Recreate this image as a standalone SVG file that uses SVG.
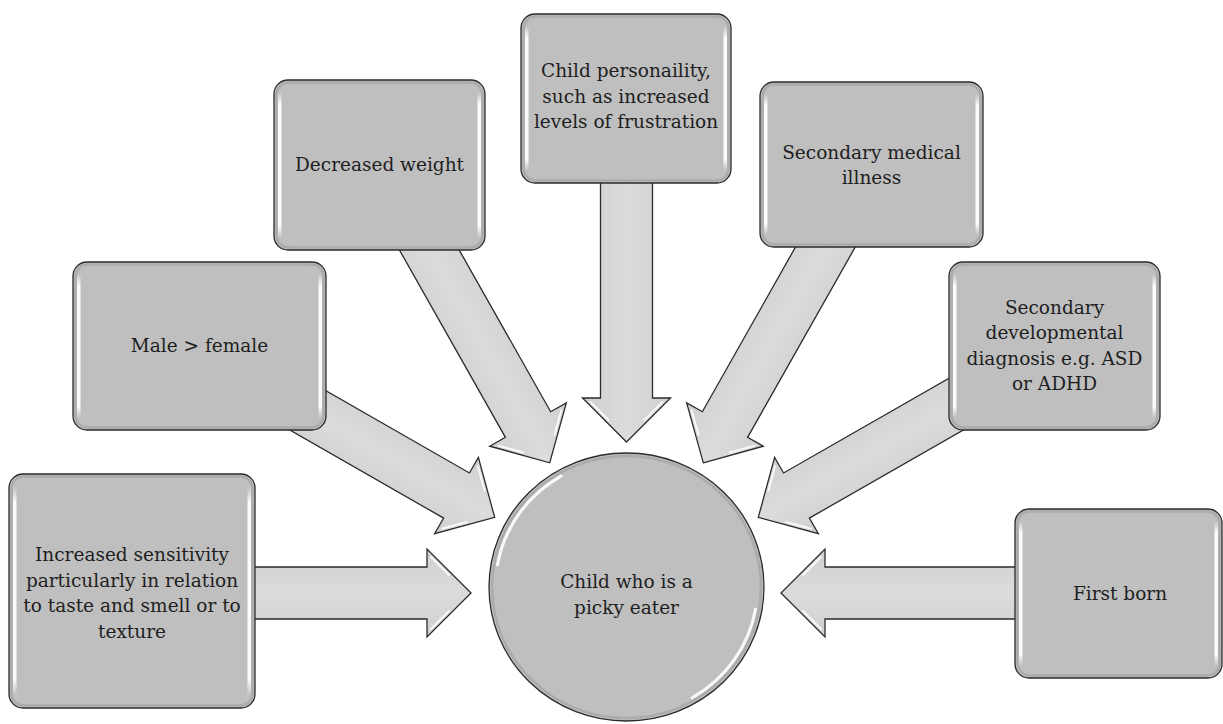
<svg xmlns="http://www.w3.org/2000/svg" width="1223" height="724" viewBox="0 0 1223 724">
<style>
.box{fill:#bfbfbf;stroke:#2b2b2b;stroke-width:1.3}
.inset{fill:none;stroke:#a3a3a3;stroke-width:2.5;opacity:0.7}
.hl{fill:url(#hlg)}
.lbl{font-family:"DejaVu Serif","Liberation Serif",serif;font-size:18.5px;fill:#1e1e1e;text-anchor:middle}
.arr{fill:url(#ag);stroke:#2b2b2b;stroke-width:1.3;stroke-linejoin:miter}
.ahl{stroke:#fff;stroke-width:2;stroke-linecap:round;opacity:0.85;fill:none}
</style>
<defs>
<linearGradient id="hlg" x1="0" y1="0" x2="0" y2="1">
<stop offset="0" stop-color="#fff" stop-opacity="0"/>
<stop offset="0.08" stop-color="#fff" stop-opacity="0.95"/>
<stop offset="0.92" stop-color="#fff" stop-opacity="0.95"/>
<stop offset="1" stop-color="#fff" stop-opacity="0"/>
</linearGradient>
<linearGradient id="ag" gradientUnits="userSpaceOnUse" x1="0" y1="-44" x2="0" y2="44">
<stop offset="0" stop-color="#cfcfcf"/>
<stop offset="0.5" stop-color="#dcdcdc"/>
<stop offset="1" stop-color="#cfcfcf"/>
</linearGradient>
<g id="arrow">
<polygon class="arr" points="0,0 -44,-44 -44,-26 -345,-26 -345,26 -44,26 -44,44"/>
<path class="ahl" d="M-40,-36 L-22,-18 M-40,36 L-22,18"/>
</g>
</defs>
<rect width="1223" height="724" fill="#fff"/>

<g id="connectors">
<use href="#arrow" transform="translate(471,593)"/>
<use href="#arrow" transform="translate(494.7,517.4) rotate(29.8)"/>
<use href="#arrow" transform="translate(549.7,462.8) rotate(60.5)"/>
<use href="#arrow" transform="translate(626.5,442) rotate(90)"/>
<use href="#arrow" transform="translate(703.3,462.8) rotate(119.5)"/>
<use href="#arrow" transform="translate(758.3,517.4) rotate(150.2)"/>
<use href="#arrow" transform="translate(781,593) rotate(180)"/>
</g>

<g id="center">
<ellipse cx="626.5" cy="587" rx="137.5" ry="134" fill="#bfbfbf" stroke="#2b2b2b" stroke-width="1.3"/>
<ellipse cx="626.5" cy="587" rx="134.5" ry="131" fill="none" stroke="#a3a3a3" stroke-width="2.5" opacity="0.7"/>
<path d="M497.5,564.8 A131,128 0 0,1 561,476.1" fill="none" stroke="#fff" stroke-width="3" stroke-linecap="round" opacity="0.9"/>
<path d="M755.5,609.2 A131,128 0 0,1 692,697.9" fill="none" stroke="#fff" stroke-width="3" stroke-linecap="round" opacity="0.9"/>
<text class="lbl" x="626.5" y="588">Child who is a</text>
<text class="lbl" x="626.5" y="614">picky eater</text>
</g>

<g id="n-sensitivity">
<rect class="box" x="9" y="474" width="246" height="234" rx="14"/>
<rect class="inset" x="11.5" y="476.5" width="241" height="229" rx="12"/>
<rect class="hl" x="13" y="486" width="3.5" height="210" rx="1.75"/>
<rect class="hl" x="247.5" y="486" width="3.5" height="210" rx="1.75"/>
<text class="lbl" x="132" y="561">Increased sensitivity</text>
<text class="lbl" x="132" y="586.5">particularly in relation</text>
<text class="lbl" x="132" y="612">to taste and smell or to</text>
<text class="lbl" x="132" y="637.5">texture</text>
</g>

<g id="n-male">
<rect class="box" x="73" y="262" width="253" height="168" rx="14"/>
<rect class="inset" x="75.5" y="264.5" width="248" height="163" rx="12"/>
<rect class="hl" x="77" y="274" width="3.5" height="144" rx="1.75"/>
<rect class="hl" x="318.5" y="274" width="3.5" height="144" rx="1.75"/>
<text class="lbl" x="199.5" y="351.5">Male &gt; female</text>
</g>

<g id="n-weight">
<rect class="box" x="274" y="80" width="211" height="170" rx="14"/>
<rect class="inset" x="276.5" y="82.5" width="206" height="165" rx="12"/>
<rect class="hl" x="278" y="92" width="3.5" height="146" rx="1.75"/>
<rect class="hl" x="477.5" y="92" width="3.5" height="146" rx="1.75"/>
<text class="lbl" x="379.5" y="171">Decreased weight</text>
</g>

<g id="n-personality">
<rect class="box" x="521" y="14" width="210" height="169" rx="14"/>
<rect class="inset" x="523.5" y="16.5" width="205" height="164" rx="12"/>
<rect class="hl" x="525" y="26" width="3.5" height="145" rx="1.75"/>
<rect class="hl" x="723.5" y="26" width="3.5" height="145" rx="1.75"/>
<text class="lbl" x="626" y="77">Child personaility,</text>
<text class="lbl" x="626" y="102.5">such as increased</text>
<text class="lbl" x="626" y="128">levels of frustration</text>
</g>

<g id="n-medical">
<rect class="box" x="760" y="82" width="223" height="165" rx="14"/>
<rect class="inset" x="762.5" y="84.5" width="218" height="160" rx="12"/>
<rect class="hl" x="764" y="94" width="3.5" height="141" rx="1.75"/>
<rect class="hl" x="975.5" y="94" width="3.5" height="141" rx="1.75"/>
<text class="lbl" x="871.5" y="158.5">Secondary medical</text>
<text class="lbl" x="871.5" y="184">illness</text>
</g>

<g id="n-developmental">
<rect class="box" x="949" y="262" width="211" height="168" rx="14"/>
<rect class="inset" x="951.5" y="264.5" width="206" height="163" rx="12"/>
<rect class="hl" x="953" y="274" width="3.5" height="144" rx="1.75"/>
<rect class="hl" x="1152.5" y="274" width="3.5" height="144" rx="1.75"/>
<text class="lbl" x="1054.5" y="313.5">Secondary</text>
<text class="lbl" x="1054.5" y="339">developmental</text>
<text class="lbl" x="1054.5" y="364.5">diagnosis e.g. ASD</text>
<text class="lbl" x="1054.5" y="390">or ADHD</text>
</g>

<g id="n-firstborn">
<rect class="box" x="1015" y="509" width="207" height="169" rx="14"/>
<rect class="inset" x="1017.5" y="511.5" width="202" height="164" rx="12"/>
<rect class="hl" x="1019" y="521" width="3.5" height="145" rx="1.75"/>
<rect class="hl" x="1214.5" y="521" width="3.5" height="145" rx="1.75"/>
<text class="lbl" x="1120" y="599.5">First born</text>
</g>
</svg>
